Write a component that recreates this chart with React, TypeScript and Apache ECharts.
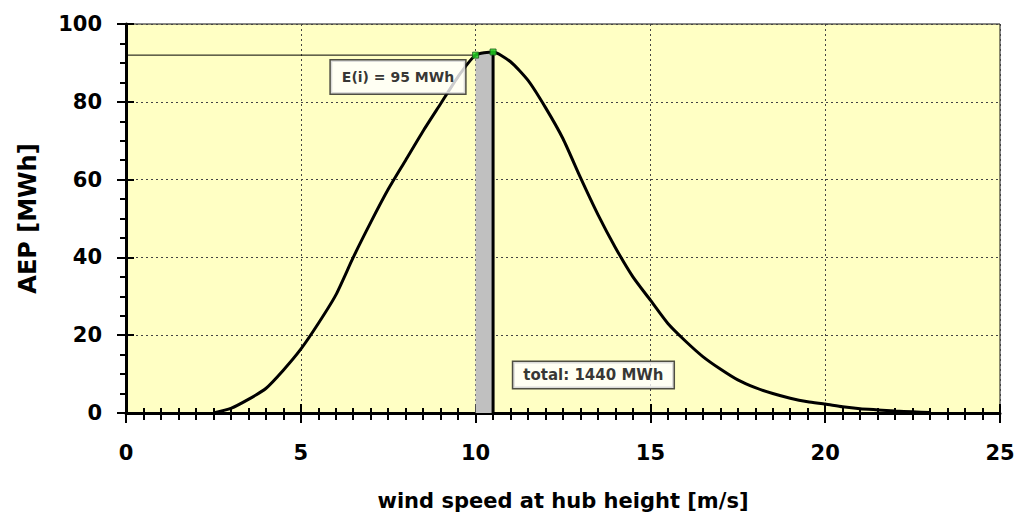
import React, { useEffect, useRef } from "react";
import * as echarts from "echarts";

// Wind speed bins [m/s] and annual energy yield per bin [MWh]
const windSpeed = [
  2.5, 3, 3.5, 4, 4.5, 5, 5.5, 6, 6.5, 7, 7.5, 8, 8.5, 9, 9.5, 10, 10.5, 11,
  11.5, 12, 12.5, 13, 13.5, 14, 14.5, 15, 15.5, 16, 16.5, 17, 17.5, 18, 18.5,
  19, 19.5, 20, 20.5, 21, 21.5, 22, 22.5, 23,
];
const aep = [
  0, 1.2, 3.5, 6.3, 11, 16.4, 23, 30.3, 40, 49, 57.5, 65, 72.5, 79.5, 86.5, 92,
  92.8, 90.3, 85.5, 78.5, 70.5, 60.5, 51, 42.5, 35, 29, 23, 18.5, 14.5, 11.3,
  8.5, 6.5, 5, 3.8, 2.9, 2.3, 1.6, 1.1, 0.8, 0.5, 0.3, 0.1,
];

// Highlighted bin i
const binStart = 10;
const binEnd = 10.5;

// Annotation texts and where they sit (data coordinates)
const binLabel = "E(i) = 95 MWh";
const binLabelAt = [7.78, 86.4];
const totalLabel = "total: 1440 MWh";
const totalLabelAt = [13.37, 9.8];

const xTicks = { min: 0, max: 25, interval: 5 };
const yTicks = { min: 0, max: 100, interval: 20 };

const FONT = "'DejaVu Sans', Verdana, sans-serif";

export default function App() {
  const ref = useRef<HTMLDivElement>(null);

  useEffect(() => {
    if (!ref.current) return;
    const chart = echarts.init(ref.current, null, { renderer: "svg" });

    const valAt = (x: number) => aep[windSpeed.indexOf(x)];
    const yStart = valAt(binStart);
    const yEnd = valAt(binEnd);

    const curve = windSpeed.map((x, i) => [x, aep[i]]);

    const labelBox = (fontSize: number, pad: number[]) => ({
      show: true,
      position: "inside",
      color: "#000",
      fontFamily: FONT,
      fontWeight: "bold",
      fontSize,
      backgroundColor: "#ffffff",
      borderColor: "#222",
      borderWidth: 1.5,
      padding: pad,
    });

    const baseX = {
      type: "value",
      min: xTicks.min,
      max: xTicks.max,
      interval: xTicks.interval,
      position: "bottom",
      offset: 0,
    };
    const baseY = {
      type: "value",
      min: yTicks.min,
      max: yTicks.max,
      interval: yTicks.interval,
      position: "left",
      offset: 0,
    };

    chart.setOption({
      animation: false,
      grid: {
        left: 126,
        right: 18,
        top: 24,
        bottom: 104,
        show: true,
        backgroundColor: "#ffffc4",
        borderColor: "#111",
        borderWidth: 1,
      },
      xAxis: [
        {
          ...baseX,
          name: "wind speed at hub height [m/s]",
          nameLocation: "middle",
          nameGap: 77,
          nameTextStyle: {
            fontFamily: FONT,
            fontWeight: "bold",
            fontSize: 21,
            color: "#000",
          },
          axisLine: { show: true, lineStyle: { color: "#000", width: 3 } },
          axisTick: { show: true, inside: false, length: 10, lineStyle: { color: "#000", width: 2 } },
          minorTick: { show: true, splitNumber: 10, length: 7, lineStyle: { color: "#000", width: 2 } },
          axisLabel: {
            margin: 29,
            fontFamily: FONT,
            fontWeight: "bold",
            fontSize: 21,
            color: "#000",
          },
          splitLine: {
            show: true,
            lineStyle: { color: "#444", width: 1, type: [2, 3] },
          },
        },
        {
          ...baseX,
          axisLine: { show: false },
          axisTick: { show: true, inside: true, length: 9, lineStyle: { color: "#000", width: 2 } },
          minorTick: { show: true, splitNumber: 10, length: 5, lineStyle: { color: "#000", width: 2 } },
          axisLabel: { show: false },
          splitLine: { show: false },
        },
      ],
      yAxis: [
        {
          ...baseY,
          name: "AEP [MWh]",
          nameLocation: "middle",
          nameGap: 86,
          nameTextStyle: {
            fontFamily: FONT,
            fontWeight: "bold",
            fontSize: 24,
            color: "#000",
          },
          axisLine: { show: true, lineStyle: { color: "#000", width: 3 } },
          axisTick: { show: true, inside: false, length: 9, lineStyle: { color: "#000", width: 2 } },
          minorTick: { show: true, splitNumber: 4, length: 6, lineStyle: { color: "#000", width: 2 } },
          axisLabel: {
            margin: 24,
            fontFamily: FONT,
            fontWeight: "bold",
            fontSize: 21,
            color: "#000",
          },
          splitLine: {
            show: true,
            lineStyle: { color: "#444", width: 1, type: [2, 3] },
          },
        },
        {
          ...baseY,
          axisLine: { show: false },
          axisTick: { show: true, inside: true, length: 8, lineStyle: { color: "#000", width: 2 } },
          minorTick: { show: false },
          axisLabel: { show: false },
          splitLine: { show: false },
        },
      ],
      series: [
        // shaded energy of bin i
        {
          type: "line",
          data: [
            [binStart, yStart],
            [binEnd, yEnd],
          ],
          symbol: "none",
          lineStyle: { width: 0 },
          areaStyle: { color: "#c0c0c0", opacity: 1 },
          z: 2,
        },
        // right edge of bin i
        {
          type: "line",
          data: [
            [binEnd, 0],
            [binEnd, yEnd],
          ],
          symbol: "none",
          lineStyle: { color: "#000", width: 3 },
          z: 3,
        },
        // reference line from the y axis to the bin start value
        {
          type: "line",
          data: [
            [xTicks.min, yStart],
            [binStart, yStart],
          ],
          symbol: "none",
          lineStyle: { color: "#000", width: 1 },
          z: 3,
        },
        // AEP curve
        {
          type: "line",
          data: curve,
          symbol: "none",
          smooth: 0.2,
          lineStyle: { color: "#000", width: 3 },
          z: 4,
        },
        // bin boundary markers
        {
          type: "scatter",
          data: [
            [binStart, yStart],
            [binEnd, yEnd],
          ],
          symbol: "rect",
          symbolSize: 6,
          itemStyle: { color: "#22dd22", borderColor: "#1a5a1a", borderWidth: 1 },
          z: 6,
        },
        // annotations
        {
          type: "scatter",
          data: [binLabelAt],
          symbolSize: 0,
          label: { ...labelBox(14, [10, 11, 9, 11]), formatter: binLabel },
          z: 7,
        },
        {
          type: "scatter",
          data: [totalLabelAt],
          symbolSize: 0,
          label: { ...labelBox(15, [6, 10, 5, 10]), formatter: totalLabel },
          z: 7,
        },
      ],
    });

    return () => chart.dispose();
  }, []);

  return (
    <div
      ref={ref}
      style={{ position: "absolute", left: 0, top: 0, width: 1018, height: 517, background: "#fff" }}
    />
  );
}
